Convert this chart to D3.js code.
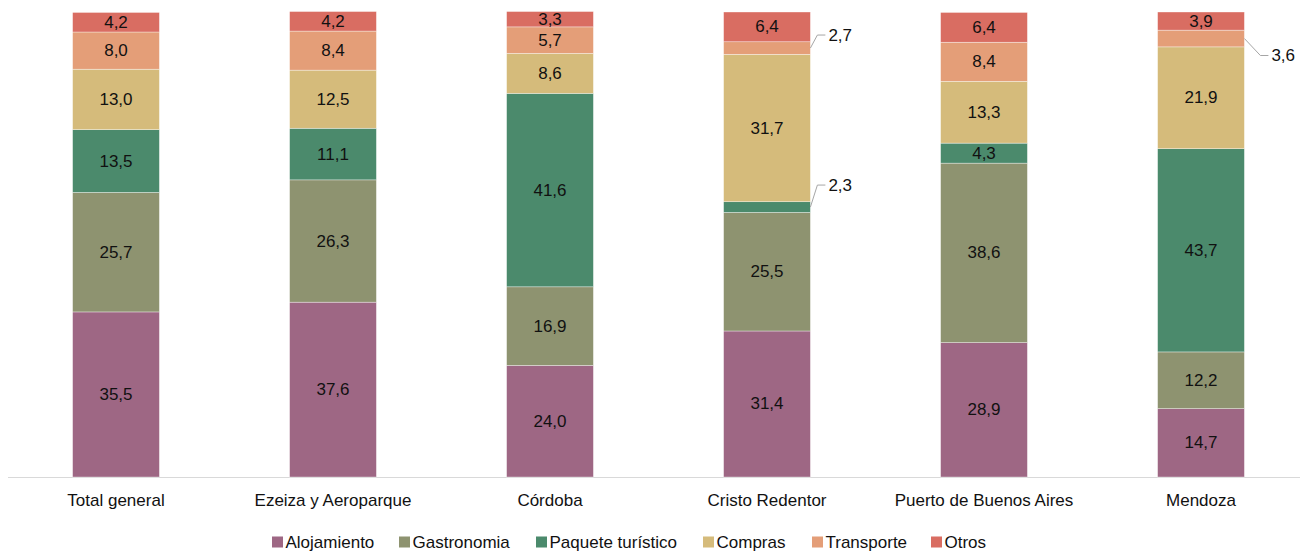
<!DOCTYPE html>
<html>
<head>
<meta charset="utf-8">
<script src="https://cdn.jsdelivr.net/npm/d3@7"></script>
<style>
  html, body { margin: 0; padding: 0; background: #fff; }
  svg { display: block; font-family: "Liberation Sans", Arial, Helvetica, sans-serif; }
</style>
</head>
<body>
<svg id="chart" width="1300" height="552"></svg>
<script>
const categories = ["Total general", "Ezeiza y Aeroparque", "Córdoba", "Cristo Redentor", "Puerto de Buenos Aires", "Mendoza"];
const seriesNames = ["Alojamiento", "Gastronomia", "Paquete turístico", "Compras", "Transporte", "Otros"];
const alojamiento = [35.5, 37.6, 24.0, 31.4, 28.9, 14.7];
const gastronomia = [25.7, 26.3, 16.9, 25.5, 38.6, 12.2];
const paquete     = [13.5, 11.1, 41.6, 2.3, 4.3, 43.7];
const compras     = [13.0, 12.5, 8.6, 31.7, 13.3, 21.9];
const transporte  = [8.0, 8.4, 5.7, 2.7, 8.4, 3.6];
const otros       = [4.2, 4.2, 3.3, 6.4, 6.4, 3.9];
const colors = ["#9e6784", "#8e9370", "#4b8a6c", "#d5bb7b", "#e49e78", "#d96d62"];
// labels drawn outside the bar with a leader line: [category, series]
const outsideLabels = [["Cristo Redentor", "Transporte"], ["Cristo Redentor", "Paquete turístico"], ["Mendoza", "Transporte"]];

const seriesValues = [alojamiento, gastronomia, paquete, compras, transporte, otros];
const rows = categories.map((c, i) => {
  const r = { cat: c };
  seriesNames.forEach((s, j) => r[s] = seriesValues[j][i]);
  return r;
});

const svg = d3.select("#chart");
const x = d3.scaleBand().domain(categories).range([7.5, 1309.5]).paddingInner(0.6).paddingOuter(0.3);
const y = d3.scaleLinear().domain([0, 100]).range([477, 12]);
const color = d3.scaleOrdinal().domain(seriesNames).range(colors);
const fmt = v => d3.format(".1f")(v).replace(".", ",");
const FS = 17;

const stacked = d3.stack().keys(seriesNames)(rows);

// axis baseline
svg.append("line").attr("x1", 8).attr("x2", 1300).attr("y1", 477.5).attr("y2", 477.5)
  .attr("stroke", "#d9d9d9").attr("stroke-width", 1.2);

const g = svg.append("g");
stacked.forEach(layer => {
  g.selectAll(null).data(layer).enter().append("rect")
    .attr("x", d => x(d.data.cat))
    .attr("width", x.bandwidth())
    .attr("y", d => y(d[1]))
    .attr("height", d => y(d[0]) - y(d[1]))
    .attr("fill", color(layer.key))
    .attr("stroke", "#ffffff").attr("stroke-opacity", 0.6).attr("stroke-width", 0.6);
});

const isOutside = (cat, key) => outsideLabels.some(o => o[0] === cat && o[1] === key);

stacked.forEach(layer => {
  layer.forEach(d => {
    const cat = d.data.cat, key = layer.key;
    const v = d.data[key];
    const cy = (y(d[0]) + y(d[1])) / 2;
    if (!isOutside(cat, key)) {
      svg.append("text").attr("x", x(cat) + x.bandwidth() / 2).attr("y", cy)
        .attr("text-anchor", "middle").attr("dominant-baseline", "central")
        .attr("font-size", FS).attr("fill", "#111").text(fmt(v));
    } else {
      const x0 = x(cat) + x.bandwidth();
      let ex, ey;
      if (cat === "Mendoza") { ex = x0 + 16; ey = cy + 17; }
      else if (key === "Transporte") { ex = x0 + 7; ey = cy - 13; }
      else { ex = x0 + 7; ey = cy - 22; }
      svg.append("path")
        .attr("d", `M${x0},${cy}L${ex},${ey}L${ex + 8},${ey}`)
        .attr("fill", "none").attr("stroke", "#a6a6a6").attr("stroke-width", 1);
      svg.append("text").attr("x", ex + 11).attr("y", ey)
        .attr("dominant-baseline", "central")
        .attr("font-size", FS).attr("fill", "#111").text(fmt(v));
    }
  });
});

// category labels
svg.append("g").selectAll("text").data(categories).enter().append("text")
  .attr("x", d => x(d) + x.bandwidth() / 2).attr("y", 500)
  .attr("text-anchor", "middle").attr("dominant-baseline", "central")
  .attr("font-size", FS).attr("fill", "#111").text(d => d);

// legend
const legendX = [272, 399, 536, 703, 812, 931];
const lg = svg.append("g");
seriesNames.forEach((s, i) => {
  lg.append("rect").attr("x", legendX[i]).attr("y", 536.5).attr("width", 11).attr("height", 11).attr("fill", color(s));
  lg.append("text").attr("x", legendX[i] + 13.5).attr("y", 542)
    .attr("dominant-baseline", "central").attr("font-size", FS).attr("fill", "#111").text(s);
});
</script>
</body>
</html>
